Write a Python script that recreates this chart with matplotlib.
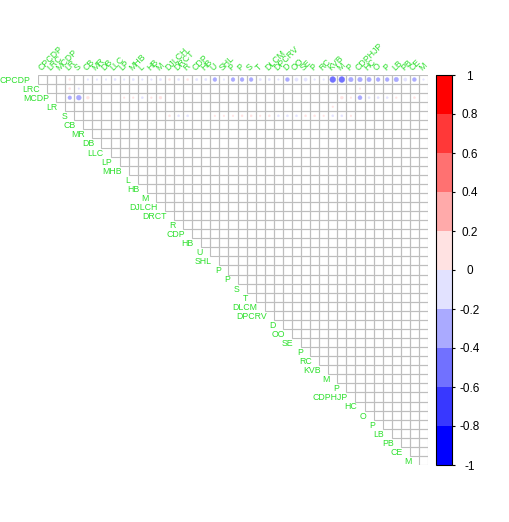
import matplotlib
matplotlib.use("agg")
import matplotlib.pyplot as plt
from matplotlib.patches import Rectangle, Circle
from matplotlib.colors import ListedColormap, BoundaryNorm
import numpy as np

plt.rcParams["font.family"] = ["Liberation Sans", "DejaVu Sans"]

labels = ["CPCDP", "LRC", "MCDP", "LR", "S", "CB", "MR", "DB", "LLC", "LP", "MHB",
          "L", "HB", "M", "DJLCH", "DRCT", "R", "CDP", "HB", "U", "SHL", "P", "P",
          "S", "T", "DLCM", "DPCRV", "D", "OO", "SE", "P", "RC", "KVB", "M", "P",
          "CDPHJP", "HC", "O", "P", "LB", "PB", "CE", "M"]
n = len(labels)

# correlations (0 = nothing drawn)
row_cpcdp = [0, 0, 0, 0.05, 0, -0.04, -0.04, -0.04, -0.07, -0.04, -0.07, -0.04, -0.04,
             -0.07, 0.06, -0.07, 0.06, -0.08, -0.08, -0.22, -0.04, -0.22, -0.22, -0.22,
             -0.08, -0.08, -0.04, -0.22, -0.16, -0.16, -0.04, -0.04, -0.5, -0.5, -0.3,
             -0.3, -0.28, -0.22, -0.22, -0.3, -0.16, -0.22, -0.04]
row_lrc = {3: 0.06, 4: -0.04, 35: 0.04}
row_mcdp = {3: -0.2, 4: -0.35, 5: 0.12, 9: 0.04, 10: 0.04, 11: -0.06, 12: 0.04,
            13: 0.12, 33: 0.12, 34: 0.04, 35: -0.25, 36: -0.07, 37: -0.07, 38: -0.06,
            39: 0.04, 41: 0.06}
row_lr = {32: 0.04}
row_s = {14: 0.06, 15: -0.06, 16: -0.06, 19: 0.04, 20: 0.04, 21: 0.04, 22: 0.06,
         23: 0.06, 24: 0.04, 25: 0.06, 26: -0.06, 27: -0.06, 28: -0.06, 29: 0.06,
         30: 0.06, 31: 0.04, 32: -0.06, 33: -0.06, 34: 0.04}

palette = ["#0000FF", "#3838FF", "#7171FF", "#AAAAFF", "#E2E2FF",
           "#FFE2E2", "#FFAAAA", "#FF7171", "#FF3838", "#FF0000"]
bounds = np.linspace(-1, 1, 11)

corr = np.zeros((n, n))
corr[0, :] = row_cpcdp
for r, d in [(1, row_lrc), (2, row_mcdp), (3, row_lr), (4, row_s)]:
    for c, v in d.items():
        corr[r, c] = v

fig = plt.figure(figsize=(5.10, 5.22), dpi=100)
ax = fig.add_axes([38 / 510, 1 - 465 / 522, 390 / 510, 390 / 522])
ax.set_xlim(0, n)
ax.set_ylim(n, 0)
ax.axis("off")

lab_col = "#2ee02e"
for r in range(n):
    for c in range(r, n):
        ax.add_patch(Rectangle((c, r), 1, 1, fill=False, edgecolor="#BEBEBE", lw=0.8))
        v = corr[r, c]
        if v != 0 and c != r:
            k = min(int(np.searchsorted(bounds, v, side="right")) - 1, 9)
            ax.add_patch(Circle((c + 0.5, r + 0.5), 0.45 * np.sqrt(abs(v)),
                                facecolor=palette[k], edgecolor=palette[k], lw=0.3))
    ax.text(r - 0.8, r + 0.6, labels[r], ha="right", va="center",
            fontsize=6.3, color=lab_col, clip_on=False)
    ax.text(r + 0.5, -0.3, labels[r], ha="left", va="bottom", rotation=45,
            rotation_mode="anchor", fontsize=6.3, color=lab_col, clip_on=False)

cax = fig.add_axes([436 / 510, 1 - 465 / 522, 16 / 510, 390 / 522])
cmap = ListedColormap(palette)
norm = BoundaryNorm(bounds, cmap.N)
cb = fig.colorbar(plt.cm.ScalarMappable(norm=norm, cmap=cmap), cax=cax)
ticks = [1, 0.8, 0.6, 0.4, 0.2, 0, -0.2, -0.4, -0.6, -0.8, -1]
cb.set_ticks(ticks)
cb.set_ticklabels(["%g" % t for t in ticks])
cb.outline.set_linewidth(0.8)
cax.tick_params(length=2.5, width=0.8, labelsize=8.5, pad=10)
for t in cax.get_yticklabels():
    t.set_horizontalalignment("center")

fig.savefig("out.png", dpi=100)
